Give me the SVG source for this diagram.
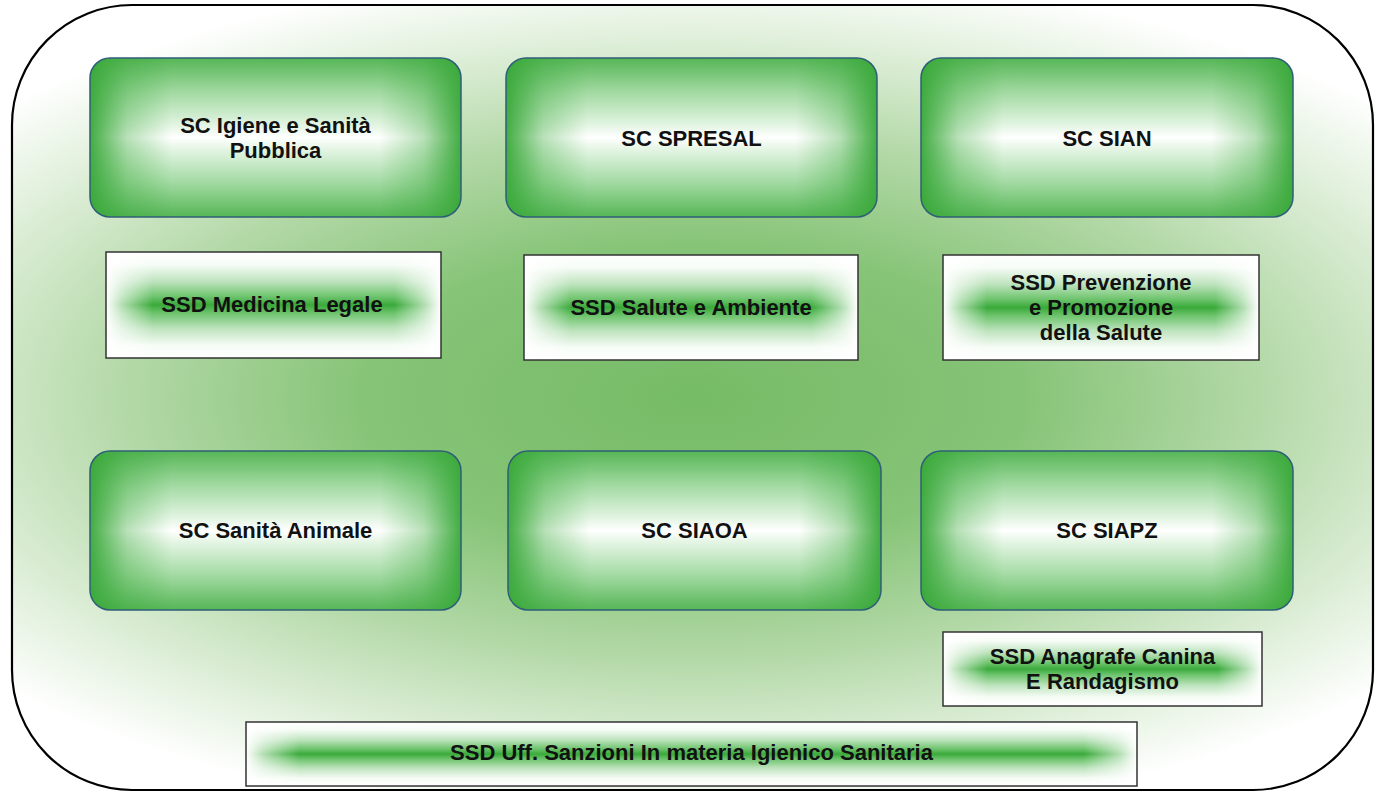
<svg xmlns="http://www.w3.org/2000/svg" width="1381" height="792" viewBox="0 0 1381 792">
<defs>
<radialGradient id="bg" cx="0.5" cy="0.5" r="0.55" gradientTransform="translate(0.5 0.5) scale(1.25 1) translate(-0.5 -0.5)">
<stop offset="0" stop-color="#76bb66"/>
<stop offset="0.35" stop-color="#86c477"/>
<stop offset="0.6" stop-color="#b2d8a6"/>
<stop offset="0.85" stop-color="#e3f1de"/>
<stop offset="1" stop-color="#ffffff"/>
</radialGradient>
<linearGradient id="scV" x1="0" y1="0" x2="0" y2="1">
<stop offset="0" stop-color="#56b656"/>
<stop offset="0.22" stop-color="#a3daa3"/>
<stop offset="0.42" stop-color="#e2f4e2"/>
<stop offset="0.5" stop-color="#ffffff"/>
<stop offset="0.58" stop-color="#e2f4e2"/>
<stop offset="0.78" stop-color="#a3daa3"/>
<stop offset="1" stop-color="#56b656"/>
</linearGradient>
<linearGradient id="scH" x1="0" y1="0" x2="1" y2="0">
<stop offset="0" stop-color="#38a838" stop-opacity="0.95"/>
<stop offset="0.1" stop-color="#38a838" stop-opacity="0.35"/>
<stop offset="0.22" stop-color="#38a838" stop-opacity="0"/>
<stop offset="0.78" stop-color="#38a838" stop-opacity="0"/>
<stop offset="0.9" stop-color="#38a838" stop-opacity="0.35"/>
<stop offset="1" stop-color="#38a838" stop-opacity="0.95"/>
</linearGradient>
<linearGradient id="ssdV" x1="0" y1="0" x2="0" y2="1">
<stop offset="0" stop-color="#ffffff"/>
<stop offset="0.12" stop-color="#f6fcf6"/>
<stop offset="0.28" stop-color="#bde3bd"/>
<stop offset="0.42" stop-color="#6ec46e"/>
<stop offset="0.5" stop-color="#3aaa3a"/>
<stop offset="0.58" stop-color="#6ec46e"/>
<stop offset="0.72" stop-color="#bde3bd"/>
<stop offset="0.88" stop-color="#f6fcf6"/>
<stop offset="1" stop-color="#ffffff"/>
</linearGradient>
<linearGradient id="ssdH" x1="0" y1="0" x2="1" y2="0">
<stop offset="0" stop-color="#ffffff" stop-opacity="1"/>
<stop offset="0.05" stop-color="#ffffff" stop-opacity="0.6"/>
<stop offset="0.14" stop-color="#ffffff" stop-opacity="0"/>
<stop offset="0.86" stop-color="#ffffff" stop-opacity="0"/>
<stop offset="0.95" stop-color="#ffffff" stop-opacity="0.6"/>
<stop offset="1" stop-color="#ffffff" stop-opacity="1"/>
</linearGradient>
<linearGradient id="ssdHw" x1="0" y1="0" x2="1" y2="0">
<stop offset="0" stop-color="#ffffff" stop-opacity="1"/>
<stop offset="0.02" stop-color="#ffffff" stop-opacity="0.6"/>
<stop offset="0.06" stop-color="#ffffff" stop-opacity="0"/>
<stop offset="0.94" stop-color="#ffffff" stop-opacity="0"/>
<stop offset="0.98" stop-color="#ffffff" stop-opacity="0.6"/>
<stop offset="1" stop-color="#ffffff" stop-opacity="1"/>
</linearGradient>
<style>
.scb{fill:url(#scV)}
.sco{fill:url(#scH);stroke:#2f5f78;stroke-width:1.5}
.ssdb{fill:url(#ssdV)}
.ssdo{fill:url(#ssdH);stroke:#333333;stroke-width:1.5}
.ssdow{fill:url(#ssdHw);stroke:#333333;stroke-width:1.5}
text{font-family:"Liberation Sans",Arial,sans-serif;font-weight:bold;font-size:22px;fill:#111111;text-anchor:middle}
</style>
</defs>
<rect x="0" y="0" width="1381" height="792" fill="#ffffff"/>
<g id="container">
<rect x="12" y="5" width="1361" height="785" rx="120" ry="120" fill="url(#bg)" stroke="#000000" stroke-width="2.2"/>
</g>
<g id="sc-igiene">
<rect class="scb" x="90" y="58" width="371" height="159" rx="20" ry="20"/>
<rect class="sco" x="90" y="58" width="371" height="159" rx="20" ry="20"/>
<text x="275.5" y="133">SC Igiene e Sanità</text>
<text x="275.5" y="158">Pubblica</text>
</g>
<g id="sc-spresal">
<rect class="scb" x="506" y="58" width="371" height="159" rx="20" ry="20"/>
<rect class="sco" x="506" y="58" width="371" height="159" rx="20" ry="20"/>
<text x="691.5" y="146">SC SPRESAL</text>
</g>
<g id="sc-sian">
<rect class="scb" x="921" y="58" width="372" height="159" rx="20" ry="20"/>
<rect class="sco" x="921" y="58" width="372" height="159" rx="20" ry="20"/>
<text x="1107" y="146">SC SIAN</text>
</g>
<g id="ssd-medicina">
<rect class="ssdb" x="106" y="252" width="335" height="106"/>
<rect class="ssdo" x="106" y="252" width="335" height="106"/>
<text x="272" y="312">SSD Medicina Legale</text>
</g>
<g id="ssd-salute">
<rect class="ssdb" x="524" y="255" width="334" height="105"/>
<rect class="ssdo" x="524" y="255" width="334" height="105"/>
<text x="691" y="315">SSD Salute e Ambiente</text>
</g>
<g id="ssd-prevenzione">
<rect class="ssdb" x="943" y="255" width="316" height="105"/>
<rect class="ssdo" x="943" y="255" width="316" height="105"/>
<text x="1101" y="290">SSD Prevenzione</text>
<text x="1101" y="315">e Promozione</text>
<text x="1101" y="340">della Salute</text>
</g>
<g id="sc-sanita-animale">
<rect class="scb" x="90" y="451" width="371" height="159" rx="20" ry="20"/>
<rect class="sco" x="90" y="451" width="371" height="159" rx="20" ry="20"/>
<text x="275.5" y="538">SC Sanità Animale</text>
</g>
<g id="sc-siaoa">
<rect class="scb" x="508" y="451" width="373" height="159" rx="20" ry="20"/>
<rect class="sco" x="508" y="451" width="373" height="159" rx="20" ry="20"/>
<text x="694.5" y="538">SC SIAOA</text>
</g>
<g id="sc-siapz">
<rect class="scb" x="921" y="451" width="372" height="159" rx="20" ry="20"/>
<rect class="sco" x="921" y="451" width="372" height="159" rx="20" ry="20"/>
<text x="1107" y="538">SC SIAPZ</text>
</g>
<g id="ssd-anagrafe">
<rect class="ssdb" x="943" y="632" width="319" height="74"/>
<rect class="ssdo" x="943" y="632" width="319" height="74"/>
<text x="1102.5" y="664">SSD Anagrafe Canina</text>
<text x="1102.5" y="689">E Randagismo</text>
</g>
<g id="ssd-sanzioni">
<rect class="ssdb" x="246" y="722" width="891" height="64"/>
<rect class="ssdow" x="246" y="722" width="891" height="64"/>
<text x="691.5" y="760">SSD Uff. Sanzioni In materia Igienico Sanitaria</text>
</g>
<g id="connectors"/>
</svg>
